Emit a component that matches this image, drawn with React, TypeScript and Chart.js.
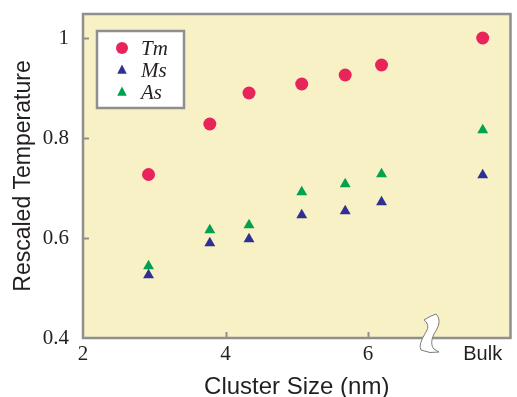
import React, { useEffect, useRef } from "react";
import { Chart, registerables } from "chart.js";

Chart.register(...registerables);

// ---- data ----
const clusterSizes = [2.92, 3.78, 4.33, 5.07, 5.68, 6.19, 7.61]; // last = Bulk
const tmValues = [0.727, 0.828, 0.89, 0.908, 0.926, 0.946, 1.0];
const msValues = [0.526, 0.59, 0.598, 0.646, 0.654, 0.672, 0.726];
const asValues = [0.544, 0.616, 0.626, 0.692, 0.708, 0.728, 0.816];
const seriesNames = ["Tm", "Ms", "As"];
const xTickValues = [2, 4, 6];
const bulkPosition = 7.61;
const bulkLabel = "Bulk";
const yTickValues = [0.4, 0.6, 0.8, 1.0];
const axisBreakAt = 6.87;

const RED = "#e8255a";
const BLUE = "#2e3192";
const GREEN = "#00a14f";
const FRAME = "#8f8f8f";
const BG = "#f8f1c6";
const TEXT = "#231f20";
const SERIF = "Liberation Serif, Times New Roman, serif";
const SANS = "Liberation Sans, Arial, sans-serif";

Chart.defaults.font.family = SERIF;

const framePlugin = {
  id: "frame",
  beforeDraw(chart: any) {
    const { ctx, chartArea: a } = chart;
    ctx.save();
    ctx.fillStyle = BG;
    ctx.fillRect(a.left, a.top, a.right - a.left, a.bottom - a.top);
    ctx.restore();
  },
  afterDatasetsDraw(chart: any) {
    const { ctx, chartArea: a, scales } = chart;
    const xs = scales.x;
    const ys = scales.y;
    ctx.save();
    ctx.strokeStyle = FRAME;
    ctx.lineWidth = 2.5;
    ctx.strokeRect(a.left, a.top, a.right - a.left, a.bottom - a.top);
    ctx.lineWidth = 2;
    // inward ticks
    ctx.beginPath();
    for (const v of yTickValues) {
      if (v === yTickValues[0]) continue;
      const py = Math.round(ys.getPixelForValue(v)) + 0.5;
      ctx.moveTo(a.left, py);
      ctx.lineTo(a.left + 6, py);
    }
    for (const v of xTickValues) {
      if (v === xTickValues[0]) continue;
      const px = Math.round(xs.getPixelForValue(v)) + 0.5;
      ctx.moveTo(px, a.bottom);
      ctx.lineTo(px, a.bottom - 6);
    }
    ctx.stroke();

    // axis break symbol
    const cx = xs.getPixelForValue(axisBreakAt);
    const cy = a.bottom;
    ctx.translate(cx, cy);
    ctx.beginPath();
    ctx.moveTo(-6, -18);
    ctx.quadraticCurveTo(0, -22, 6, -24);
    ctx.bezierCurveTo(12, -18, 8, -10, 4, -4);
    ctx.bezierCurveTo(1, 2, 1, 8, 4, 11);
    ctx.quadraticCurveTo(7, 13, 9, 14);
    ctx.quadraticCurveTo(0, 16, -9, 12);
    ctx.bezierCurveTo(-12, 6, -6, -2, -3, -8);
    ctx.bezierCurveTo(-1, -12, -3, -16, -6, -18);
    ctx.closePath();
    ctx.fillStyle = "#ffffff";
    ctx.fill();
    ctx.strokeStyle = "#7a7a7a";
    ctx.lineWidth = 1;
    ctx.stroke();
    ctx.restore();
  },
  afterDraw(chart: any) {
    // legend box inside plot
    const { ctx, chartArea: a } = chart;
    const left = a.left + 14;
    const top = a.top + 17;
    const w = 87;
    const h = 77;
    ctx.save();
    ctx.fillStyle = "#ffffff";
    ctx.fillRect(left, top, w, h);
    ctx.strokeStyle = FRAME;
    ctx.lineWidth = 2.5;
    ctx.strokeRect(left, top, w, h);
    chart.data.datasets.forEach((ds: any, i: number) => {
      const y = top + 17 + i * 22;
      const x = left + 25;
      ctx.fillStyle = ds.backgroundColor;
      ctx.beginPath();
      if (ds.pointStyle === "circle") {
        ctx.arc(x, y, 6, 0, Math.PI * 2);
      } else {
        const r = 5.5;
        ctx.moveTo(x, y - r);
        ctx.lineTo(x + r * 0.866, y + r * 0.5 + 1);
        ctx.lineTo(x - r * 0.866, y + r * 0.5 + 1);
        ctx.closePath();
      }
      ctx.fill();
      ctx.fillStyle = TEXT;
      ctx.font = "italic 21px " + SERIF;
      ctx.textBaseline = "middle";
      ctx.textAlign = "left";
      ctx.fillText(ds.label, left + 44, y + 1);
    });
    ctx.restore();
  },
};

export default function App() {
  const ref = useRef<HTMLCanvasElement | null>(null);
  useEffect(() => {
    document.body.style.margin = "0";
    const canvas = ref.current;
    if (!canvas) return;
    const mk = (vals: number[]) => vals.map((v, i) => ({ x: clusterSizes[i], y: v }));
    const chart = new Chart(canvas, {
      type: "scatter",
      data: {
        datasets: [
          {
            label: seriesNames[0],
            data: mk(tmValues),
            backgroundColor: RED,
            borderWidth: 0,
            pointStyle: "circle",
            pointRadius: 6.5,
          },
          {
            label: seriesNames[1],
            data: mk(msValues),
            backgroundColor: BLUE,
            borderWidth: 0,
            pointStyle: "triangle",
            pointRadius: 6.3,
          },
          {
            label: seriesNames[2],
            data: mk(asValues),
            backgroundColor: GREEN,
            borderWidth: 0,
            pointStyle: "triangle",
            pointRadius: 6.3,
          },
        ],
      },
      options: {
        responsive: false,
        animation: false,
        events: [],
        layout: { padding: { top: 14, right: 2, left: 0, bottom: 0 } },
        plugins: { legend: { display: false }, tooltip: { enabled: false } },
        scales: {
          x: {
            type: "linear",
            min: 2,
            max: 8,
            grid: { display: false },
            border: { display: false },
            afterBuildTicks: (s: any) => {
              s.ticks = [...xTickValues, bulkPosition].map((v) => ({ value: v }));
            },
            afterFit: (s: any) => {
              s.height = 59;
              s.paddingLeft = 0;
              s.paddingRight = 0;
            },
            ticks: {
              autoSkip: false,
              maxRotation: 0,
              padding: -4,
              color: TEXT,
              callback: (v: any) => (v === bulkPosition ? bulkLabel : String(v)),
              font: (c: any) =>
                c.tick && c.tick.value === bulkPosition
                  ? { family: SANS, size: 20 }
                  : { family: SERIF, size: 21 },
            },
            title: {
              display: true,
              text: "Cluster Size (nm)",
              color: TEXT,
              font: { family: SANS, size: 24 },
              padding: { top: 0, bottom: -5 },
            },
          },
          y: {
            type: "linear",
            min: 0.4,
            max: 1.048,
            grid: { display: false },
            border: { display: false },
            afterBuildTicks: (s: any) => {
              s.ticks = yTickValues.map((v) => ({ value: v }));
            },
            afterFit: (s: any) => {
              s.width = 83;
              s.paddingTop = 0;
              s.paddingBottom = 0;
            },
            ticks: {
              padding: 6,
              color: TEXT,
              callback: (v: any) => (Number(v) === 1 ? "1" : Number(v).toFixed(1)),
              font: { family: SERIF, size: 21 },
            },
            title: {
              display: true,
              text: "Rescaled Temperature",
              color: TEXT,
              font: { family: SANS, size: 23 },
              padding: { top: 10, bottom: 0 },
            },
          },
        },
      },
      plugins: [framePlugin],
    } as any);
    return () => chart.destroy();
  }, []);
  return (
    <div style={{ width: 517, height: 397 }}>
      <canvas ref={ref} width={517} height={397} style={{ display: "block" }} />
    </div>
  );
}
